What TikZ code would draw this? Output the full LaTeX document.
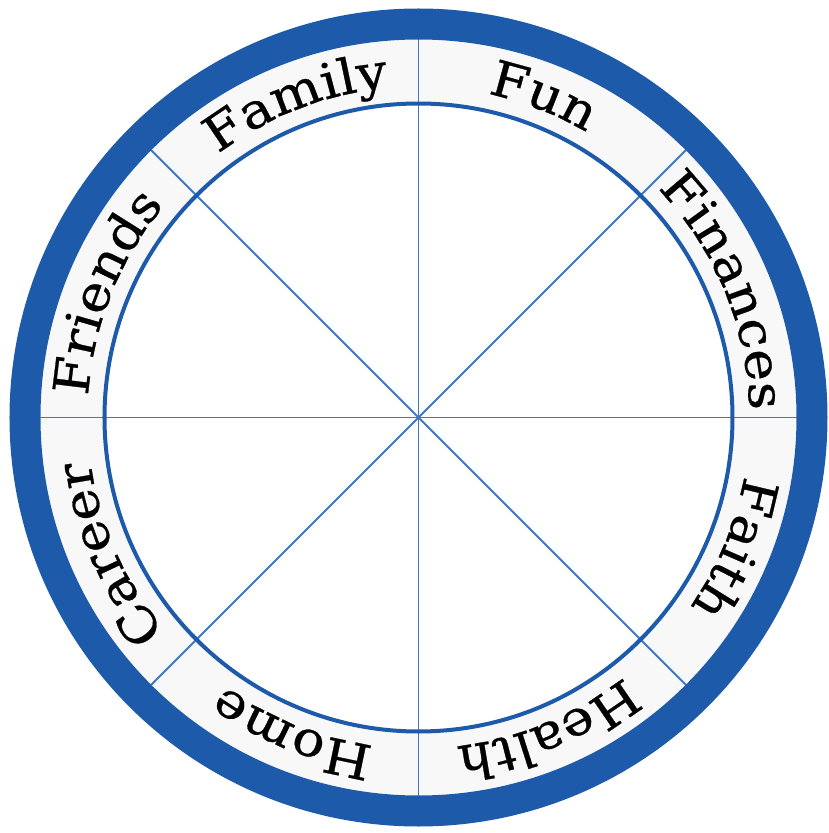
\documentclass[tikz,border=0pt]{standalone}
\usepackage{fontspec}
\setmainfont{DejaVu Serif}
\newfontfamily\lblfamily[FakeStretch=1.1, FakeBold=0.6]{DejaVu Serif}
\usetikzlibrary{decorations.text}
\definecolor{ringblue}{HTML}{1D5BAA}
\definecolor{spokeblue}{HTML}{3C78C4}
\definecolor{bandgray}{HTML}{F8F8F8}
\newcommand{\lblfont}{\lblfamily\fontsize{49}{55}\selectfont}
\begin{document}
\begin{tikzpicture}[x=1pt,y=1pt,
  spoke/.style={spokeblue, line width=1.8},
  labelarc/.style n args={2}{decorate, decoration={text along path, text align=center, text={|\lblfont|#2}},
    insert path={(c) ++(#1+22.5:331) arc[start angle=#1+22.5, end angle=#1-22.5, radius=331]}}]
\useasboundingbox (-418.5,-415.5) rectangle (409.5,417.5);
\coordinate (c) at (0,0);
\fill[bandgray] (c) circle[radius=378];
\fill[white] (c) circle[radius=314];
\foreach \a in {0,45,...,315} \draw[spoke] (c) -- (\a:378);
\draw[ringblue, line width=31] (c) circle[radius=393.5];
\draw[ringblue, line width=4] (c) circle[radius=314];
\path[labelarc={68.7}{Fun}];
\path[labelarc={111.2}{Family}];
\path[labelarc={158.2}{Friends}];
\path[labelarc={203.8}{Career}];
\path[labelarc={248.2}{Home}];
\path[labelarc={292.5}{Health}];
\path[labelarc={337.5}{Faith}];
\path[labelarc={22.5}{Finances}];
\end{tikzpicture}
\end{document}
